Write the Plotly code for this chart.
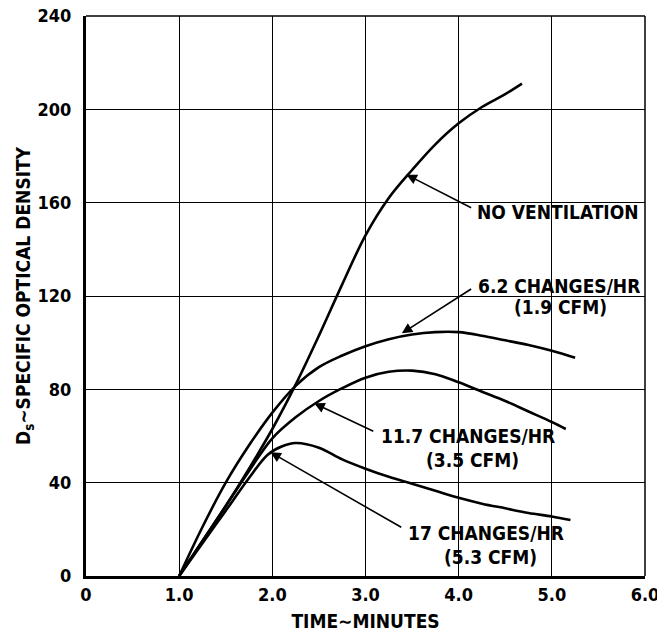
import plotly.graph_objects as go

# ---- data ----
nv_x = [1.0, 1.25, 1.5, 1.75, 2.0, 2.25, 2.5, 2.75, 3.0, 3.25, 3.5, 3.75, 4.0, 4.25, 4.5, 4.68]
nv_y = [0, 15, 30, 46, 63, 82, 103, 125, 146, 162, 174, 185, 194, 201, 206.5, 211]

c62_x = [1.0, 1.25, 1.5, 1.75, 2.0, 2.25, 2.5, 2.75, 3.0, 3.25, 3.5, 3.75, 4.0, 4.25, 4.5, 4.75, 5.0, 5.25]
c62_y = [0, 21, 40, 56, 70, 81.5, 89.5, 94.5, 98.5, 101.5, 103.5, 104.5, 104.5, 103, 101, 99, 96.5, 93.5]

c117_x = [1.0, 1.25, 1.5, 1.75, 2.0, 2.25, 2.5, 2.75, 3.0, 3.25, 3.5, 3.75, 4.0, 4.25, 4.5, 4.75, 5.0, 5.15]
c117_y = [0, 15, 30, 45, 59, 68, 75, 80.5, 85, 87.5, 88, 86.5, 83, 79, 75, 70.5, 66, 63]

c17_x = [1.0, 1.25, 1.5, 1.75, 1.95, 2.1, 2.25, 2.5, 2.75, 3.0, 3.25, 3.5, 3.75, 4.0, 4.25, 4.5, 4.75, 5.0, 5.2]
c17_y = [0, 14, 28, 42, 52, 55.5, 57, 55, 50, 46, 42.5, 39.5, 36.5, 33.5, 31, 29, 27, 25.5, 24]

x_ticks = [0, 1, 2, 3, 4, 5, 6]
x_tick_labels = ["0", "1.0", "2.0", "3.0", "4.0", "5.0", "6.0"]
y_ticks = [0, 40, 80, 120, 160, 200, 240]
y_tick_labels = ["0", "40", "80", "120", "160", "200", "240"]

FONT = "Liberation Sans Narrow, DejaVu Sans Condensed, Arial Narrow, sans-serif"

fig = go.Figure()
for xs, ys in [(nv_x, nv_y), (c62_x, c62_y), (c117_x, c117_y), (c17_x, c17_y)]:
    fig.add_trace(go.Scatter(x=xs, y=ys, mode="lines",
                             line=dict(color="black", width=2.6, shape="spline", smoothing=1.0),
                             showlegend=False, hoverinfo="skip"))

# labels
labels = [
    ("NO VENTILATION", 4.17, 156, "left"),
    ("6.2 CHANGES/HR", 4.19, 124.5, "left"),
    ("(1.9 CFM)", 5.09, 115.5, "center"),
    ("11.7 CHANGES/HR", 3.15, 59.8, "left"),
    ("(3.5 CFM)", 4.15, 49.8, "center"),
    ("17 CHANGES/HR", 3.43, 18.6, "left"),
    ("(5.3 CFM)", 4.34, 8.3, "center"),
]
for t, x, y, anc in labels:
    fig.add_annotation(x=x, y=y, text=t, showarrow=False, xanchor=anc, yanchor="middle",
                       font=dict(family=FONT, size=19, color="black", weight="bold"))

arrows = [
    (4.15, 157.5, 3.44, 172),
    (4.15, 123.4, 3.39, 104),
    (3.10, 61.7, 2.45, 74),
    (3.40, 20.5, 1.98, 53),
]
for ax, ay, x, y in arrows:
    fig.add_annotation(x=x, y=y, ax=ax, ay=ay, axref="x", ayref="y", xref="x", yref="y",
                       text=" ", showarrow=True, arrowhead=2, arrowsize=1.3, arrowwidth=1.6,
                       arrowcolor="black", standoff=0, startstandoff=0,
                       font=dict(size=1))

# frame top/right thin lines
fig.add_shape(type="line", xref="paper", yref="paper", x0=0, x1=1, y0=1, y1=1,
              line=dict(color="black", width=1.5))
fig.add_shape(type="line", xref="paper", yref="paper", x0=1, x1=1, y0=0, y1=1,
              line=dict(color="black", width=1.5))

fig.update_layout(
    width=657, height=639,
    margin=dict(l=86, r=12, t=16, b=63),
    paper_bgcolor="white", plot_bgcolor="white",
    font=dict(family=FONT, color="black"),
    xaxis=dict(range=[0, 6], tickvals=x_ticks, ticktext=x_tick_labels,
               showgrid=True, gridcolor="black", gridwidth=1,
               showline=True, linecolor="black", linewidth=3,
               zeroline=False, ticks="", automargin=False, ticklabeloverflow="allow",
               tickfont=dict(family=FONT, size=18, color="black", weight="bold"),
               title=dict(text="TIME∼MINUTES", standoff=12,
                          font=dict(family=FONT, size=19, color="black", weight="bold"))),
    yaxis=dict(range=[0, 240], tickvals=y_ticks, ticktext=y_tick_labels,
               showgrid=True, gridcolor="black", gridwidth=1,
               showline=True, linecolor="black", linewidth=3,
               zeroline=False, ticks="", automargin=False, ticklabelstandoff=8,
               tickfont=dict(family=FONT, size=18, color="black", weight="bold"),
               title=dict(text="D<sub>s</sub>∼SPECIFIC OPTICAL DENSITY", standoff=2,
                          font=dict(family=FONT, size=19, color="black", weight="bold"))),
)

fig.write_html("out.html")
